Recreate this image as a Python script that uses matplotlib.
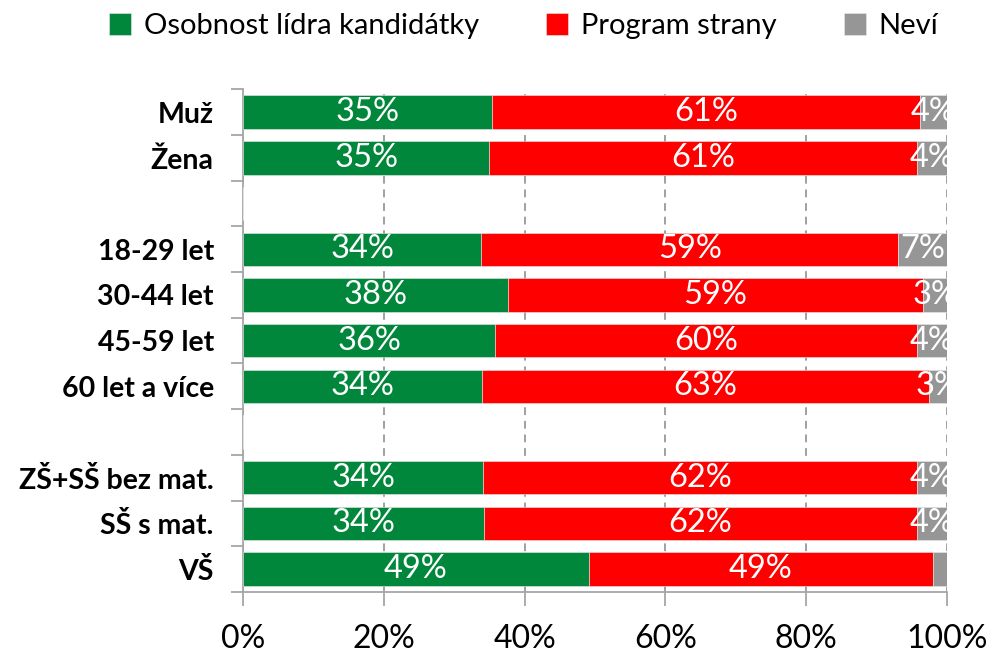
import numpy as np
import matplotlib
matplotlib.use("Agg")
import matplotlib.pyplot as plt
from matplotlib.ticker import FixedLocator, PercentFormatter

plt.rcParams['font.family'] = ['Lato', 'DejaVu Sans']

# kategorie shora dolu, prazdne radky jako oddelovace
kategorie = ["Muž", "Žena", "", "18-29 let", "30-44 let", "45-59 let",
             "60 let a více", "", "ZŠ+SŠ bez mat.", "SŠ s mat.", "VŠ"]
osobnost = [35.4, 35.0, np.nan, 33.8, 37.6, 35.8, 34.0, np.nan, 34.1, 34.2, 49.1]
program = [60.7, 60.7, np.nan, 59.3, 59.0, 59.9, 63.4, np.nan, 61.6, 61.6, 48.9]
nevi = [3.9, 4.3, np.nan, 6.9, 3.4, 4.3, 2.6, np.nan, 4.3, 4.2, 2.0]
popisky_nevi = ["4%", "4%", "", "7%", "3%", "4%", "3%", "", "4%", "4%", ""]

serie = ["Osobnost lídra kandidátky", "Program strany", "Neví"]
barvy = ["#00873C", "#FF0000", "#969696"]

fig = plt.figure(figsize=(9.92, 6.55), dpi=100)
ax = fig.add_axes([0.245, 0.0962, 0.7096, 0.7675])

y = np.arange(len(kategorie))
vlevo = np.zeros(len(kategorie))
hodnoty = [osobnost, program, nevi]
for i, (vals, nazev, barva) in enumerate(zip(hodnoty, serie, barvy)):
    vals = np.array(vals, dtype=float)
    ax.barh(y, np.nan_to_num(vals), height=0.73, left=vlevo,
            color=barva, label=nazev, edgecolor='#e8e8e8', linewidth=0.4, zorder=3)
    # popisky hodnot uprostred segmentu (orezane osou jako v originale)
    for j, v in enumerate(vals):
        if np.isnan(v):
            continue
        txt = popisky_nevi[j] if i == 2 else "{:.0f}%".format(v)
        if txt:
            ax.text(vlevo[j] + v / 2, y[j], txt, ha='center', va='center',
                    color='white', fontsize=23.5, clip_on=True, zorder=4)
    vlevo = vlevo + np.nan_to_num(vals)

ax.set_xlim(0, 100)
ax.set_ylim(len(kategorie) - 0.5, -0.5)

ax.set_yticks(y)
ax.set_yticklabels(kategorie, fontsize=20.5, fontweight='bold')
ax.yaxis.set_minor_locator(FixedLocator(np.arange(-0.5, len(kategorie), 1)))
ax.tick_params(axis='y', which='major', length=0, pad=21)
ax.tick_params(axis='y', which='minor', length=9, width=1.3, color='#a6a6a6', direction='out')

ax.set_xticks([0, 20, 40, 60, 80, 100])
ax.xaxis.set_major_formatter(PercentFormatter(decimals=0))
ax.tick_params(axis='x', length=10, width=1.3, color='#a6a6a6', direction='out',
               labelsize=23, pad=13)

ax.grid(axis='x', color='#a0a0a0', linestyle=(0, (4, 3)), linewidth=1.4, zorder=0)
for s in ['top', 'right']:
    ax.spines[s].set_visible(False)
for s in ['left', 'bottom']:
    ax.spines[s].set_color('#a6a6a6')
    ax.spines[s].set_linewidth(1.3)

fig.legend(loc='upper center', bbox_to_anchor=(0.528, 1.02), ncol=3, frameon=False,
           fontsize=21, handlelength=0.75, handleheight=0.75, columnspacing=2.3,
           handletextpad=0.45)

fig.savefig("out.png", dpi=100)
